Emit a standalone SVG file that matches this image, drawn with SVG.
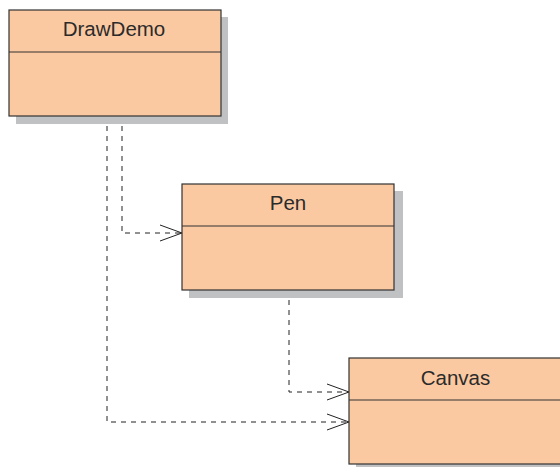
<svg xmlns="http://www.w3.org/2000/svg" width="560" height="467" viewBox="0 0 560 467">
<defs>
<style>
.shadow{fill:#c0c1c3;stroke:none}
.box{fill:#fbc9a1;stroke:#333;stroke-width:1.2}
.div{stroke:#333;stroke-width:1.2;fill:none}
.lbl{font-family:"Liberation Sans",Arial,sans-serif;font-size:20.5px;fill:#2b2b2b;text-anchor:middle}
.dep{fill:none;stroke:#222;stroke-width:1;stroke-dasharray:5 5}
.head{fill:none;stroke:#222;stroke-width:1}
</style>
</defs>
<rect width="560" height="467" fill="#fff"/>
<g id="connectors">
<polyline class="dep" points="122,116 122,233 181,233"/>
<polyline class="head" points="160,225 182,233 160,241"/>
<polyline class="dep" points="289,290 289,392 348,392"/>
<polyline class="head" points="327,384 349,392 327,400"/>
<polyline class="dep" points="107,116 107,422 348,422"/>
<polyline class="head" points="327,414 349,422 327,430"/>
</g>
<g id="DrawDemo">
<rect class="shadow" x="16" y="17" width="212" height="107"/>
<rect class="box" x="9" y="10" width="212" height="106"/>
<line class="div" x1="9" y1="52" x2="221" y2="52"/>
<text class="lbl" x="114" y="35.5">DrawDemo</text>
</g>
<g id="Pen">
<rect class="shadow" x="189" y="191" width="214" height="107"/>
<rect class="box" x="182" y="184" width="212" height="106"/>
<line class="div" x1="182" y1="226" x2="394" y2="226"/>
<text class="lbl" x="288" y="210">Pen</text>
</g>
<g id="Canvas">
<rect class="shadow" x="356" y="365" width="212" height="107"/>
<rect class="box" x="349" y="358" width="212" height="106"/>
<line class="div" x1="349" y1="400" x2="561" y2="400"/>
<text class="lbl" x="455.5" y="384.5">Canvas</text>
</g>
</svg>
